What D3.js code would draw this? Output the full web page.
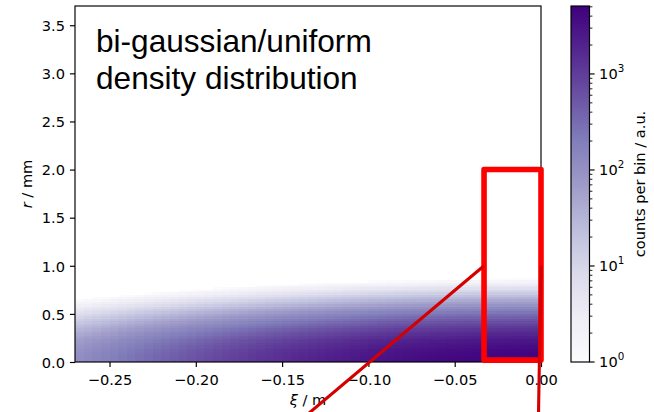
<!DOCTYPE html>
<html>
<head>
<meta charset="utf-8">
<script src="https://cdn.jsdelivr.net/npm/d3@7"></script>
<style>
  html, body { margin: 0; padding: 0; background: #fff; }
  svg { display: block; }
  text { font-family: "DejaVu Sans", sans-serif; fill: #000; }
</style>
</head>
<body>
<svg id="chart" width="654" height="412"></svg>
<script>
// ---- histogram data -------------------------------------------------------
// ξ bins: 54 columns, 0.005 m wide, starting at ξ = -0.27 m
const xiBinStart = -0.27;
const xiBinWidth = 0.005;
// counts per bin on the axis (innermost r bin), one value per ξ column
const axisCounts = [116, 133, 152, 174, 198, 225, 255, 288, 324, 365,
                    409, 457, 510, 568, 630, 697, 770, 848, 931, 1019,
                    1114, 1214, 1320, 1430, 1547, 1668, 1794, 1924, 2059, 2198,
                    2340, 2484, 2630, 2778, 2926, 3075, 3222, 3368, 3511, 3651,
                    3786, 3917, 4041, 4158, 4268, 4369, 4461, 4543, 4615, 4675,
                    4724, 4761, 4786, 4799];
// r bins: 0.025 mm wide; counts relative to the on-axis bin of the same column
const rBinWidth = 0.025;
const radialFraction = [1.00, 0.98, 0.96, 0.92, 0.87, 0.81, 0.74, 0.67, 0.60, 0.53,
                        0.46, 0.39, 0.33, 0.275, 0.225, 0.182, 0.145, 0.114, 0.0885, 0.0676,
                        0.0509, 0.0378, 0.0277, 0.0200, 0.0142, 0.0100, 0.0069, 0.0047, 0.0032, 0.0021,
                        0.00137, 0.00088, 0.00056, 0.00035, 0.00022, 0.00013, 0.00008, 0.00005, 0.00003, 0.00002];

// axes ranges and ticks
const xiDomain = [-0.27, 0.0];
const rDomain = [0, 3.7];
const xTicks = [-0.25, -0.20, -0.15, -0.10, -0.05, 0.00];
const yTicks = [0.0, 0.5, 1.0, 1.5, 2.0, 2.5, 3.0, 3.5];
const cbarDomain = [1, 5100];
const cbarMajorTicks = [1, 10, 100, 1000];
const cbarExponents = ["0", "1", "2", "3"];

// highlighted head region and its connector lines (ξ in m, r in mm)
const zoomXi = [-0.033, 0.0];
const zoomR = [0.02, 2.0];
const connectorLeft = [[-0.033, 1.0], [-0.139, -0.6]];
const connectorRight = [[0.0, 1.0], [-0.0015, -0.6]];

const titleLines = ["bi-gaussian/uniform", "density distribution"];

// ---- layout ---------------------------------------------------------------
const svg = d3.select("#chart");
const plot = { left: 75, right: 541, top: 6, bottom: 362 };
const cbar = { left: 571, width: 18.5 };
const tickFont = 14.6;
const axisLW = 1.17;

const x = d3.scaleLinear().domain(xiDomain).range([plot.left, plot.right]);
const y = d3.scaleLinear().domain(rDomain).range([plot.bottom, plot.top]);

// matplotlib "Purples" (linear segments between the 9 anchor colours)
const purples = ["#fcfbfd", "#efedf5", "#dadaeb", "#bcbddc", "#9e9ac8",
                 "#807dba", "#6a51a3", "#54278f", "#3f007d"];
const purpleRamp = d3.scaleLinear()
  .domain(d3.range(purples.length).map(i => i / (purples.length - 1)))
  .range(purples)
  .interpolate(d3.interpolateRgb)
  .clamp(true);
const norm = d3.scaleLog().domain(cbarDomain).range([0, 1]).clamp(true);
const colour = c => purpleRamp(norm(c));

// ---- 2D histogram ---------------------------------------------------------
const cells = [];
axisCounts.forEach((n0, i) => {
  radialFraction.forEach((f, j) => {
    const count = n0 * f;
    if (count >= 1) {
      cells.push({
        xi0: xiBinStart + i * xiBinWidth,
        xi1: xiBinStart + (i + 1) * xiBinWidth,
        r0: j * rBinWidth,
        r1: (j + 1) * rBinWidth,
        count
      });
    }
  });
});

svg.append("g")
  .attr("shape-rendering", "crispEdges")
  .selectAll("rect")
  .data(cells)
  .join("rect")
  .attr("x", d => x(d.xi0))
  .attr("width", d => x(d.xi1) - x(d.xi0))
  .attr("y", d => y(d.r1))
  .attr("height", d => y(d.r0) - y(d.r1))
  .attr("fill", d => colour(d.count));

// ---- axes -----------------------------------------------------------------
const xAxis = svg.append("g")
  .attr("transform", `translate(0,${plot.bottom})`)
  .call(d3.axisBottom(x).tickValues(xTicks).tickFormat(d3.format(".2f"))
    .tickSize(5.1).tickSizeOuter(0));
xAxis.select(".domain").remove();
xAxis.selectAll("line").attr("stroke", "#000").attr("stroke-width", axisLW);
xAxis.selectAll("text")
  .attr("y", 22.6).attr("dy", null)
  .style("font-size", tickFont + "px").attr("fill", "#000");

const yAxis = svg.append("g")
  .attr("transform", `translate(${plot.left},0)`)
  .call(d3.axisLeft(y).tickValues(yTicks).tickFormat(d3.format(".1f"))
    .tickSize(5.1).tickSizeOuter(0).tickPadding(4.9));
yAxis.select(".domain").remove();
yAxis.selectAll("line").attr("stroke", "#000").attr("stroke-width", axisLW);
yAxis.selectAll("text")
  .attr("dy", "0.36em")
  .style("font-size", tickFont + "px").attr("fill", "#000");

// frame
svg.append("rect")
  .attr("x", plot.left).attr("y", plot.top)
  .attr("width", plot.right - plot.left).attr("height", plot.bottom - plot.top)
  .attr("fill", "none").attr("stroke", "#000").attr("stroke-width", axisLW);

// axis labels
const xl = svg.append("text")
  .attr("x", (plot.left + plot.right) / 2).attr("y", 405)
  .attr("text-anchor", "middle")
  .style("font-size", tickFont + "px");
xl.append("tspan").attr("font-style", "italic").text("ξ");
xl.append("tspan").text(" / m");

const yl = svg.append("text")
  .attr("transform", `translate(31.5,${(plot.top + plot.bottom) / 2}) rotate(-90)`)
  .attr("text-anchor", "middle")
  .style("font-size", tickFont + "px");
yl.append("tspan").attr("font-style", "italic").text("r");
yl.append("tspan").text(" / mm");

// title inside the axes
svg.append("g").selectAll("text")
  .data(titleLines)
  .join("text")
  .attr("x", 96)
  .attr("y", (d, i) => 52 + i * 37.2)
  .style("font-family", "'Liberation Sans', Arial, sans-serif")
  .style("font-size", "31.6px")
  .text(d => d);

// ---- colorbar -------------------------------------------------------------
const cy = d3.scaleLog().domain(cbarDomain).range([plot.bottom, plot.top]);
const rows = d3.range(plot.top, plot.bottom, 1);
svg.append("g")
  .attr("shape-rendering", "crispEdges")
  .selectAll("rect")
  .data(rows)
  .join("rect")
  .attr("x", cbar.left).attr("width", cbar.width)
  .attr("y", d => d).attr("height", 1.2)
  .attr("fill", d => colour(cy.invert(d + 0.5)));

svg.append("rect")
  .attr("x", cbar.left).attr("y", plot.top)
  .attr("width", cbar.width).attr("height", plot.bottom - plot.top)
  .attr("fill", "none").attr("stroke", "#000").attr("stroke-width", axisLW);

const cbarRight = cbar.left + cbar.width;
// minor ticks
const minorTicks = [];
cbarMajorTicks.forEach(dec => {
  for (let m = 2; m <= 9; m++) {
    const v = dec * m;
    if (v <= cbarDomain[1]) minorTicks.push(v);
  }
});
svg.append("g").selectAll("line")
  .data(minorTicks)
  .join("line")
  .attr("x1", cbarRight).attr("x2", cbarRight + 2.9)
  .attr("y1", d => cy(d)).attr("y2", d => cy(d))
  .attr("stroke", "#000").attr("stroke-width", 0.88);
// major ticks and labels
const major = svg.append("g").selectAll("g")
  .data(cbarMajorTicks)
  .join("g")
  .attr("transform", d => `translate(${cbarRight},${cy(d)})`);
major.append("line")
  .attr("x2", 5.1).attr("stroke", "#000").attr("stroke-width", axisLW);
const lab = major.append("text")
  .attr("x", 9.6).attr("y", 5.3)
  .style("font-size", tickFont + "px");
lab.append("tspan").text("10");
lab.append("tspan")
  .attr("dy", -7.7)
  .style("font-size", "10.3px")
  .text((d, i) => cbarExponents[i]);

svg.append("text")
  .attr("transform", `translate(645,${(plot.top + plot.bottom) / 2}) rotate(-90)`)
  .attr("text-anchor", "middle")
  .style("font-size", tickFont + "px")
  .text("counts per bin / a.u.");

// ---- highlighted region and connectors -----------------------------------
svg.append("rect")
  .attr("x", x(zoomXi[0])).attr("y", y(zoomR[1]))
  .attr("width", x(zoomXi[1]) - x(zoomXi[0]))
  .attr("height", y(zoomR[0]) - y(zoomR[1]))
  .attr("fill", "none").attr("stroke", "#ff0000")
  .attr("stroke-width", 5.6).attr("stroke-linejoin", "round");

const line = d3.line().x(d => x(d[0])).y(d => y(d[1]));
svg.append("g").selectAll("path")
  .data([connectorLeft, connectorRight])
  .join("path")
  .attr("d", line)
  .attr("fill", "none").attr("stroke", "#d40000")
  .attr("stroke-width", 3.1);
</script>
</body>
</html>
